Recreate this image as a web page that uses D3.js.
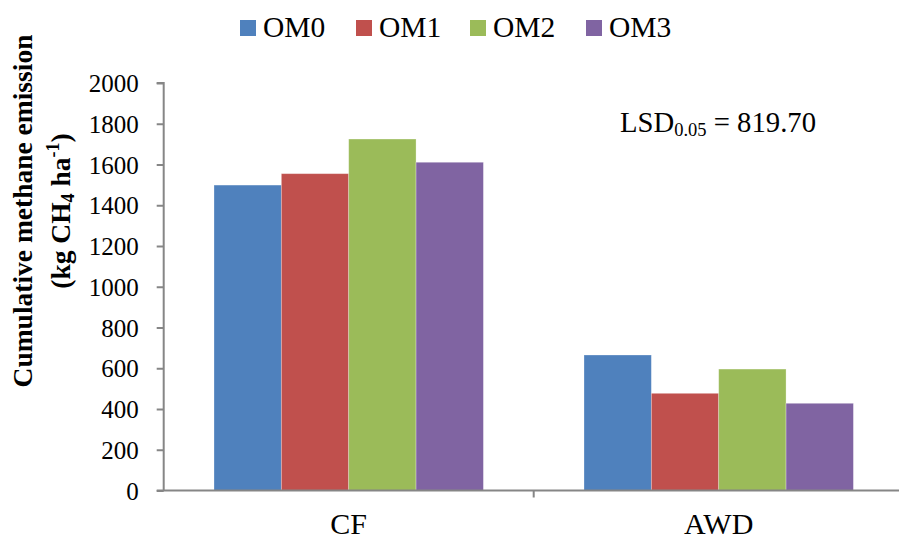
<!DOCTYPE html>
<html>
<head>
<meta charset="utf-8">
<script src="https://cdn.jsdelivr.net/npm/d3@7"></script>
<style>
  html, body { margin: 0; padding: 0; background: #fff; }
  svg { display: block; }
</style>
</head>
<body>
<svg id="chart" width="899" height="540"></svg>
<script>
// ---- data ----
const categories = ["CF", "AWD"];
const seriesNames = ["OM0", "OM1", "OM2", "OM3"];
const seriesColors = ["#4F81BD", "#C0504D", "#9BBB59", "#8064A2"];
const OM0 = [1499, 665];
const OM1 = [1555, 477];
const OM2 = [1725, 596];
const OM3 = [1611, 428];
const yTicks = [0, 200, 400, 600, 800, 1000, 1200, 1400, 1600, 1800, 2000];

const seriesValues = [OM0, OM1, OM2, OM3];
const table = categories.map((c, i) => ({
  category: c,
  values: seriesNames.map((s, j) => ({ key: s, value: seriesValues[j][i], color: seriesColors[j] }))
}));

const FONT = "Liberation Serif";

// ---- layout ----
const svg = d3.select("#chart");
const plotLeft = 163.7, plotRight = 903.7, plotTop = 83, plotBottom = 490.5;
const axisColor = "#868686";

const x = d3.scaleBand().domain(categories).range([plotLeft, plotRight]).paddingInner(0).paddingOuter(0);
const x1 = d3.scaleBand().domain(seriesNames).range([50.3, x.bandwidth() - 50.3]).padding(0);
const y = d3.scaleLinear().domain([0, 2000]).range([plotBottom, plotTop]);

// bars
const groups = svg.append("g").selectAll("g").data(table).join("g")
  .attr("transform", d => `translate(${x(d.category)},0)`);
groups.selectAll("rect").data(d => d.values).join("rect")
  .attr("x", d => x1(d.key))
  .attr("width", x1.bandwidth())
  .attr("y", d => y(d.value))
  .attr("height", d => y(0) - y(d.value))
  .attr("fill", d => d.color)
  .attr("stroke", "rgba(255,255,255,0.35)")
  .attr("stroke-width", 0.8);

// y axis
const yAxis = d3.axisLeft(y).tickValues(yTicks).tickSize(7).tickPadding(18).tickFormat(d3.format("d"));
const gy = svg.append("g").attr("transform", `translate(${plotLeft},0)`).call(yAxis);
gy.attr("font-family", null).attr("font-size", null);
gy.select(".domain").attr("stroke", axisColor).attr("stroke-width", 2).attr("d", `M-7,${plotTop}H0V${plotBottom}`);
gy.selectAll(".tick line").attr("stroke", axisColor).attr("stroke-width", 2);
gy.selectAll(".tick text").attr("fill", "#000").style("font-size", "25px")
  .style("font-family", FONT).attr("dy", "0.34em");

// x axis
const xAxis = d3.axisBottom(x).tickSize(0).tickPadding(0);
const gx = svg.append("g").attr("transform", `translate(0,${plotBottom})`).call(xAxis);
gx.attr("font-family", null).attr("font-size", null);
gx.select(".domain").attr("stroke", axisColor).attr("stroke-width", 2).attr("d", `M${plotLeft - 7},0H${plotRight}`);
gx.selectAll(".tick text").attr("fill", "#000").style("font-size", "30px")
  .style("font-family", FONT)
  .attr("dy", null).attr("y", 43);
// category separators
const seps = categories.slice(1).map(c => x(c));
gx.selectAll("line.sep").data(seps).join("line").attr("class", "sep")
  .attr("x1", d => d).attr("x2", d => d).attr("y1", 0).attr("y2", 7)
  .attr("stroke", axisColor).attr("stroke-width", 2);

// y label
const yl = svg.append("text").attr("transform", "translate(31.5,211) rotate(-90)")
  .attr("text-anchor", "middle").style("font-family", FONT).style("font-weight", "bold").style("font-size", "27.5px");
yl.append("tspan").attr("x", 0).attr("y", 0).text("Cumulative methane emission");
const yl2 = svg.append("text").attr("transform", "translate(70,211) rotate(-90)")
  .attr("text-anchor", "middle").style("font-family", FONT).style("font-weight", "bold").style("font-size", "27.5px");
yl2.append("tspan").text("(kg CH");
yl2.append("tspan").attr("dy", 4).style("font-size", "18px").text("4");
yl2.append("tspan").attr("dy", -4).text(" ha");
yl2.append("tspan").attr("dy", -11).style("font-size", "18px").text("-1");
yl2.append("tspan").attr("dy", 11).text(")");

// legend
const legendX = [240, 356, 470, 586];
const leg = svg.append("g").selectAll("g").data(seriesNames).join("g")
  .attr("transform", (d, i) => `translate(${legendX[i]},20)`);
leg.append("rect").attr("width", 16).attr("height", 16).attr("fill", (d, i) => seriesColors[i]);
leg.append("text").attr("x", 23).attr("y", 17.3).style("font-family", FONT).style("font-size", "29.5px").text(d => d);

// LSD annotation
const lsd = svg.append("text").attr("x", 620).attr("y", 132.3).style("font-family", FONT).style("font-size", "28.7px");
lsd.append("tspan").text("LSD");
lsd.append("tspan").attr("dy", 3.4).style("font-size", "18.5px").text("0.05");
lsd.append("tspan").attr("dy", -3.4).text(" = 819.70");
</script>
</body>
</html>
